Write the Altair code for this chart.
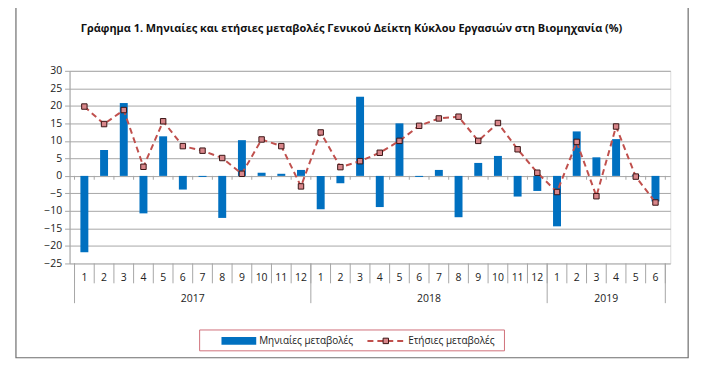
import altair as alt
import pandas as pd

# ---- data ----
years = ["2017"] * 12 + ["2018"] * 12 + ["2019"] * 6
months = [str(m) for m in range(1, 13)] * 2 + [str(m) for m in range(1, 7)]
monthly = [-21.8, 7.4, 20.8, -10.7, 11.3, -3.9, -0.3, -12.0, 10.2, 0.9, 0.6, 1.7,
           -9.5, -2.1, 22.6, -8.9, 15.0, -0.3, 1.7, -11.8, 3.7, 5.7, -5.9, -4.3,
           -14.4, 12.7, 5.3, 10.5, 0.2, -7.3]
annual = [19.8, 14.8, 18.8, 2.6, 15.6, 8.5, 7.2, 5.1, 0.6, 10.4, 8.5, -3.0,
          12.4, 2.5, 4.2, 6.6, 10.0, 14.3, 16.4, 16.9, 10.0, 15.1, 7.6, 0.9,
          -4.6, 9.7, -5.8, 14.1, -0.2, -7.6]
year_names = ["2017", "2018", "2019"]
year_lengths = [12, 12, 6]
y_ticks = list(range(-25, 31, 5))
title_text = "Γράφημα 1. Μηνιαίες και ετήσιες μεταβολές  Γενικού Δείκτη Κύκλου Εργασιών στη Βιομηχανία (%)"
legend_bar = "Μηνιαίες μεταβολές"
legend_line = "Ετήσιες μεταβολές"

FONT = "Open Sans"
W, H = 605, 194
N = len(months)

df = pd.DataFrame({
    "xc": [i + 0.5 for i in range(N)],
    "month": months,
    "year": years,
    "monthly": monthly,
    "annual": annual,
})

starts = [0]
for n in year_lengths:
    starts.append(starts[-1] + n)
bounds = pd.DataFrame({"b": list(range(N + 1))})
year_bounds = pd.DataFrame({"b": starts})
year_df = pd.DataFrame({
    "year": year_names,
    "xc": [s + n / 2 for s, n in zip(starts[:-1], year_lengths)],
})

xs = alt.Scale(domain=[0, N], nice=False, zero=False)
ys = alt.Scale(domain=[-25, 30], nice=False, zero=False)

yaxis = alt.Axis(values=y_ticks, labelOverlap=False,
                 grid=True, gridColor="#a6a6a6", gridWidth=1,
                 domainColor="#a6a6a6", tickColor="#a6a6a6", tickSize=5,
                 labelFont=FONT, labelFontSize=10.5, labelColor="#222",
                 labelPadding=3, title=None)

base = alt.Chart(df)

bars = base.mark_bar(size=8, color="#0070C0").encode(
    x=alt.X("xc:Q", scale=xs, axis=None),
    y=alt.Y("monthly:Q", scale=ys, axis=yaxis),
)

zero_ticks = alt.Chart(bounds).mark_rule(color="#a6a6a6").encode(
    x=alt.X("b:Q", scale=xs, axis=None),
    y=alt.Y(datum=0, scale=ys, axis=yaxis),
    y2=alt.datum(-1.1),
)

line = base.mark_line(color="#C0504D", strokeWidth=2, strokeDash=[6, 4]).encode(
    x=alt.X("xc:Q", scale=xs, axis=None),
    y=alt.Y("annual:Q", scale=ys, axis=yaxis),
)
pts = base.mark_square(size=30, fill="#D8868A", stroke="#3a1515", strokeWidth=1, opacity=1).encode(
    x=alt.X("xc:Q", scale=xs, axis=None),
    y=alt.Y("annual:Q", scale=ys, axis=yaxis),
)

sep_short = alt.Chart(bounds).mark_rule(color="#a6a6a6").encode(
    x=alt.X("b:Q", scale=xs, axis=None), y=alt.value(H), y2=alt.value(H + 20))
sep_long = alt.Chart(year_bounds).mark_rule(color="#a6a6a6").encode(
    x=alt.X("b:Q", scale=xs, axis=None), y=alt.value(H), y2=alt.value(H + 40))

month_lbl = base.mark_text(font=FONT, fontSize=10.5, color="#222", baseline="middle").encode(
    x=alt.X("xc:Q", scale=xs, axis=None), y=alt.value(H + 15), text="month:N")
year_lbl = alt.Chart(year_df).mark_text(font=FONT, fontSize=10.5, color="#222", baseline="middle").encode(
    x=alt.X("xc:Q", scale=xs, axis=None), y=alt.value(H + 36), text="year:N")

one = pd.DataFrame({"t": [title_text], "a": [legend_bar], "b": [legend_line]})
c1 = alt.Chart(one)

title = c1.mark_text(font=FONT, fontSize=11, fontWeight="bold", color="#111", baseline="middle").encode(
    x=alt.value(284), y=alt.value(-42), text="t:N")

border = c1.mark_rect(fill=None, stroke="#6e6e6e", strokeWidth=1.2).encode(
    x=alt.value(-54), x2=alt.value(623), y=alt.value(-65), y2=alt.value(289))

leg_box = c1.mark_rect(fill="white", stroke="#D0707A", strokeWidth=1).encode(
    x=alt.value(131), x2=alt.value(438), y=alt.value(261), y2=alt.value(282))
leg_sw = c1.mark_rect(fill="#0070C0").encode(
    x=alt.value(153), x2=alt.value(188), y=alt.value(268), y2=alt.value(276))
leg_t1 = c1.mark_text(font=FONT, fontSize=10, color="#222", align="left", baseline="middle").encode(
    x=alt.value(191), y=alt.value(272), text="a:N")
leg_ln = c1.mark_rule(color="#C0504D", strokeWidth=2, strokeDash=[6, 4]).encode(
    x=alt.value(300), x2=alt.value(337), y=alt.value(272))
leg_pt = c1.mark_square(size=30, fill="#D8868A", stroke="#3a1515", strokeWidth=1, opacity=1).encode(
    x=alt.value(318.5), y=alt.value(272))
leg_t2 = c1.mark_text(font=FONT, fontSize=10, color="#222", align="left", baseline="middle").encode(
    x=alt.value(341), y=alt.value(272), text="b:N")

chart = alt.layer(
    border, bars, zero_ticks, line, pts, sep_short, sep_long, month_lbl, year_lbl,
    title, leg_box, leg_sw, leg_t1, leg_ln, leg_pt, leg_t2,
).properties(
    width=W, height=H,
    padding={"left": 62, "top": 62, "right": 40, "bottom": 100},
    autosize=alt.AutoSizeParams(type="none"),
).configure_view(stroke=None).configure(background="white")

chart.save("out.html", embed_options={"renderer": "svg", "actions": False})
